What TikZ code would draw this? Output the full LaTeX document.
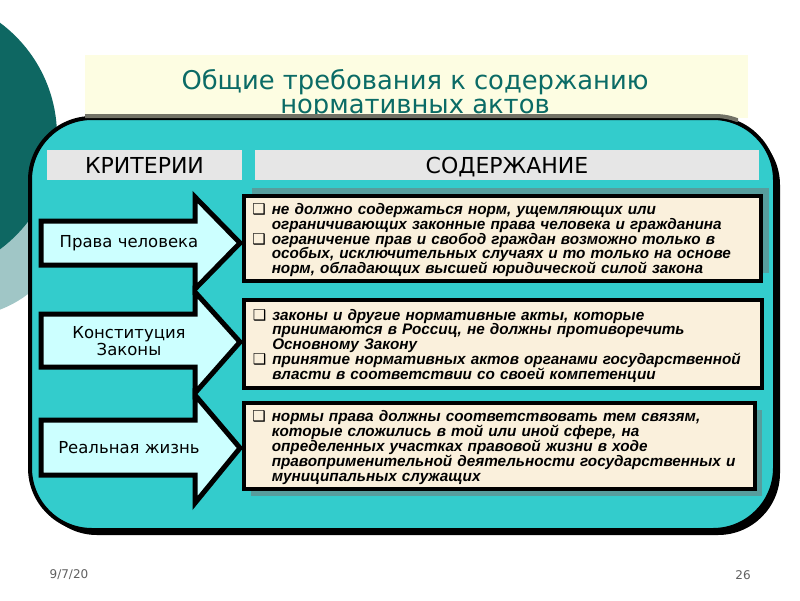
\documentclass[tikz,border=0pt]{standalone}
\usepackage{fontspec}
\setmainfont{DejaVu Sans}
\newfontfamily\inhaltfont{Liberation Sans}
\usetikzlibrary{shadows}
\definecolor{dunkelteal}{HTML}{0E6762}
\definecolor{hellteal}{HTML}{A0C6C6}
\definecolor{titelfarbe}{HTML}{0B6B66}
\definecolor{band}{HTML}{FDFDE2}
\definecolor{tuerkis}{HTML}{33CCCC}
\definecolor{hellblau}{HTML}{CCFFFF}
\definecolor{pergament}{HTML}{FAF0DC}
\definecolor{schatten}{HTML}{579D9D}
\definecolor{kopfgrau}{HTML}{E6E6E6}
\definecolor{fussgrau}{HTML}{606060}
\newcommand{\punkt}{\par\noindent\hangindent=19.5pt\hangafter=1%
  \makebox[19.5pt][l]{\normalfont\fontsize{15}{14.5}\selectfont ❑}}

\begin{document}
\begin{tikzpicture}[
    x=1pt, y=-1pt,
    titel/.style={align=center, text=titelfarbe, inner sep=0pt,
                  font=\fontsize{25.8}{23.5}\selectfont},
    rahmen/.style={draw, line width=4pt, fill=tuerkis, rounded corners=62pt,
                   minimum width=745pt, minimum height=412pt,
                   drop shadow={shadow xshift=5pt, shadow yshift=-5pt,
                                fill=black, opacity=1}},
    kopf/.style={fill=kopfgrau, minimum height=30pt, text height=16pt,
                 text depth=0pt, font=\fontsize{22}{24}\selectfont},
    pfeil/.style={draw, line width=5pt, fill=hellblau},
    marke/.style={align=center, inner sep=0pt,
                  font=\fontsize{16.5}{17}\selectfont},
    kasten/.style={draw, line width=3.5pt, fill=pergament, anchor=north west,
                   text width=500pt, inner xsep=8.5pt, inner ysep=3pt,
                   align=left, minimum width=517pt,
                   font=\inhaltfont\bfseries\itshape\fontsize{15.3}{14.8}\selectfont},
    fuss/.style={text=fussgrau, font=\fontsize{12}{13}\selectfont}
  ]

    \useasboundingbox (0,0) rectangle (800,600);
    \fill[white] (0,0) rectangle (800,600);

    % --- Kreise links ---
    \fill[hellteal] (-40,205) circle (112);
    \fill[dunkelteal] (-84,136) circle (141);

    % --- Titel ---
    \fill[band] (85,55) rectangle (748,118);
    \node[titel] (titel) at (415,94)
      {Общие требования к содержанию\\нормативных актов};

    % --- Rahmen ---
    \node[rahmen] (rahmen) at (402.5,324) {};
    \begin{scope}
      \clip (85,50) rectangle (738,121);
      \draw[line width=4pt, black!55!band, rounded corners=62pt]
        (rahmen.north west) rectangle (rahmen.south east);
    \end{scope}

    % --- Kopfzeilen ---
    \node[kopf, minimum width=195pt] (kriterien) at (144.5,165) {КРИТЕРИИ};
    \node[kopf, minimum width=504pt] (inhalt) at (507,165) {СОДЕРЖАНИЕ};

    % --- Pfeile ---
    \draw[pfeil] (41,221) -- (195,221) -- (195,197) -- (240,243)
      -- (195,289) -- (195,265) -- (41,265) -- cycle;
    \node[marke] (m1) at (129,243) {Права человека};

    \draw[pfeil] (41,314) -- (195,314) -- (195,292) -- (240,342)
      -- (195,393) -- (195,367) -- (41,367) -- cycle;
    \node[marke] (m2) at (129,341) {Конституция\\Законы};

    \draw[pfeil] (41,420) -- (195,420) -- (195,395) -- (240,448)
      -- (195,503) -- (195,475) -- (41,475) -- cycle;
    \node[marke] (m3) at (129,448) {Реальная жизнь};

    % --- Inhalte ---
    \node[kasten, minimum height=85pt,
          drop shadow={shadow xshift=8pt, shadow yshift=8pt,
                       fill=schatten, opacity=1}] (k1) at (242,194)
      {\punkt не должно содержаться норм, ущемляющих или\newline
       ограничивающих законные права человека и гражданина
       \punkt ограничение прав и свобод граждан возможно только в\newline
       особых, исключительных случаях и то только на основе\newline
       норм, обладающих высшей юридической силой закона\par};

    \node[kasten, minimum height=88pt, minimum width=518pt] (k2) at (242,298)
      {\punkt законы и другие нормативные акты, которые\newline
       принимаются в Россиц, не должны противоречить\newline
       Основному Закону
       \punkt принятие нормативных актов органами государственной\newline
       власти в соответствии со своей компетенции\par};

    \node[kasten, minimum height=86pt, minimum width=511pt, text width=494pt,
          drop shadow={shadow xshift=7pt, shadow yshift=-7pt,
                       fill=schatten, opacity=1}] (k3) at (242,401)
      {\punkt нормы права должны соответствовать тем связям,\newline
       которые сложились в той или иной сфере, на\newline
       определенных участках правовой жизни в ходе\newline
       правоприменительной деятельности государственных и\newline
       муниципальных служащих\par};

    % --- Fusszeile ---
    \node[fuss] (datum) at (69,575) {9/7/20};
    \node[fuss] (seite) at (743,575) {26};

\end{tikzpicture}
\end{document}
